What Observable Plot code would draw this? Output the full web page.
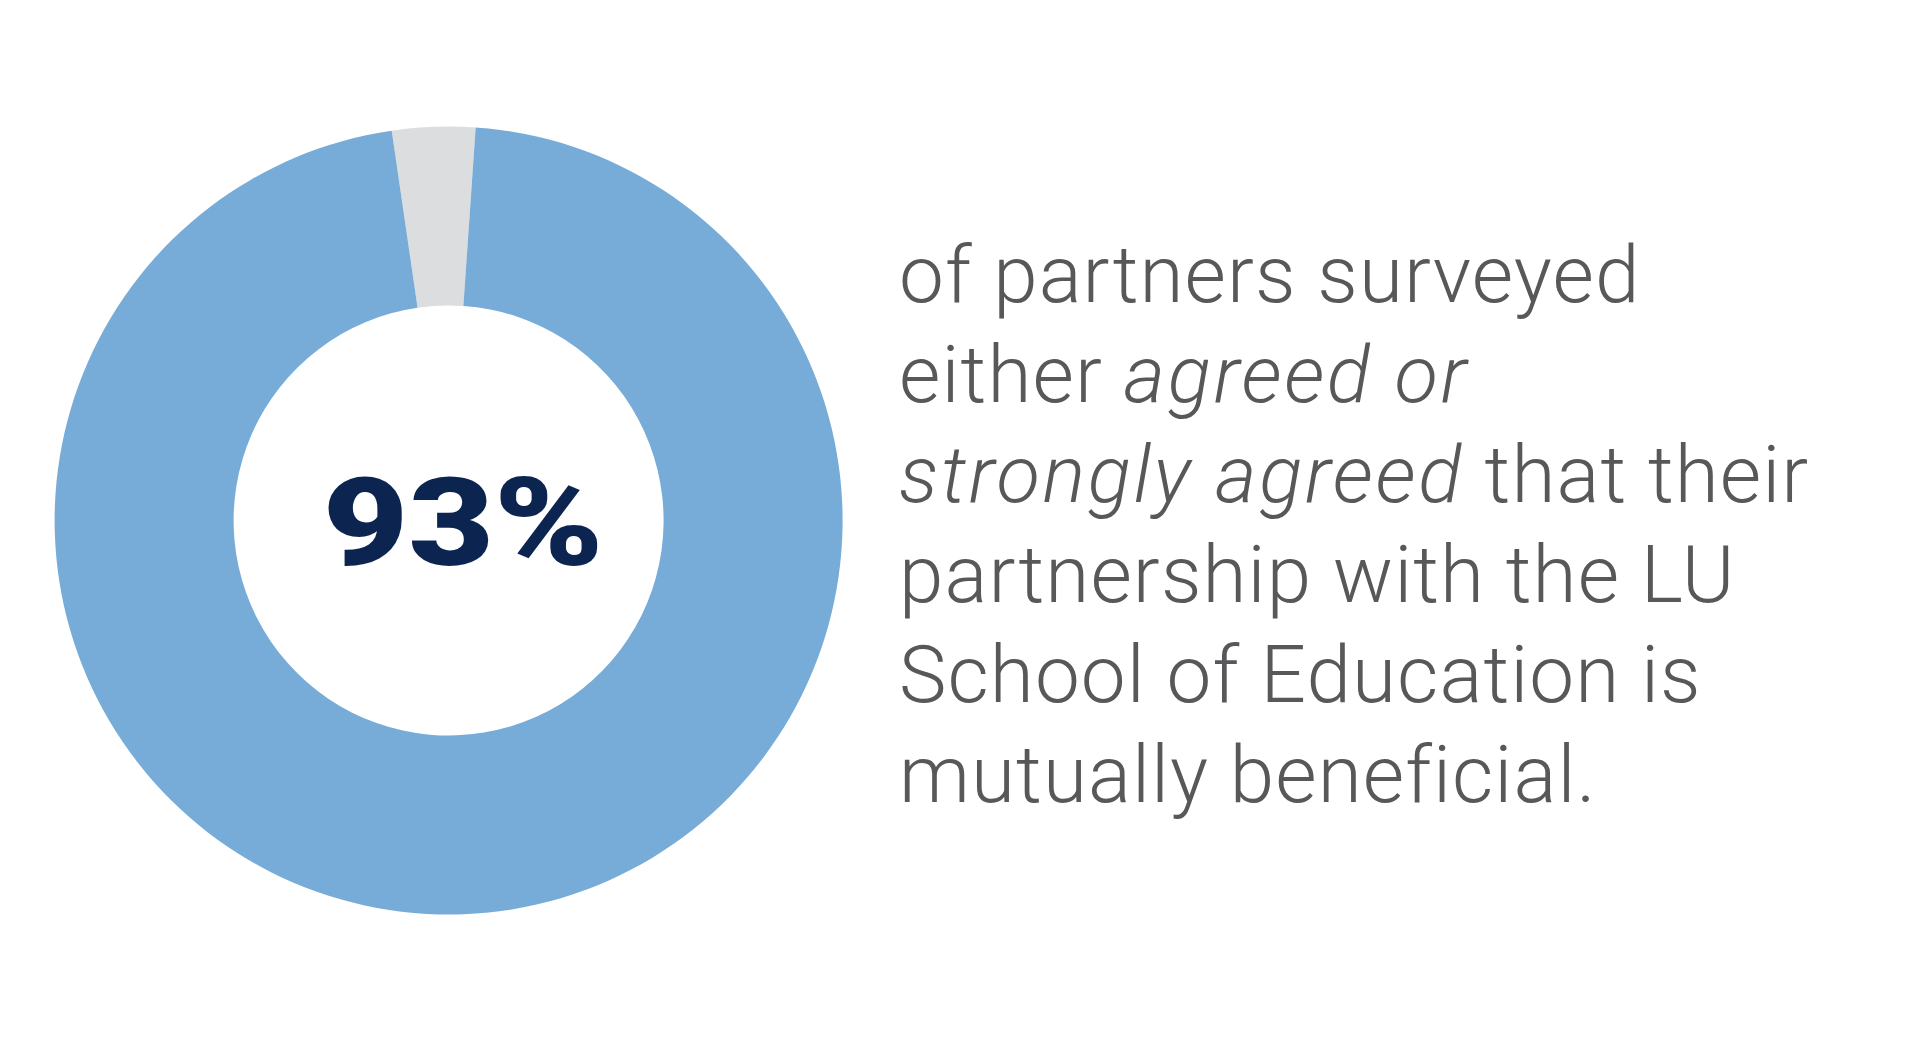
<!DOCTYPE html>
<html>
<head>
<meta charset="utf-8">
<script src="https://cdn.jsdelivr.net/npm/d3@7"></script>
<script src="https://cdn.jsdelivr.net/npm/@observablehq/plot@0.6"></script>
<style>
  html, body { margin: 0; padding: 0; background: #ffffff; }
  #wrap { position: relative; width: 1909px; height: 1042px; overflow: hidden; }
  #chart { position: absolute; left: 0; top: 0; }
  #caption {
    position: absolute; left: 899px; top: 225px;
    font-family: Roboto, "Noto Sans", sans-serif; font-weight: 300;
    font-size: 80px; line-height: 100px; color: #58585b;
    white-space: nowrap; letter-spacing: 1.1px;
  }
  #caption em { font-style: italic; letter-spacing: 2.6px; }
</style>
</head>
<body>
<div id="wrap">
  <div id="chart"></div>
  <div id="caption"></div>
</div>
<script>
// ---- data ----
const sliceLabels = ["Other responses", "Agreed or strongly agreed"];
const sliceValues = [3.4, 96.6];          // as drawn in the ring
const sliceColors = ["#dcdddf", "#77acd8"];
const headline = ["93%"];
const captionLines = [
  [["of partners surveyed", false]],
  [["either ", false], ["agreed or", true]],
  [["strongly agreed", true], [" that their", false]],
  [["partnership with the LU", false]],
  [["School of Education is", false]],
  [["mutually beneficial.", false]]
];

// ---- layout ----
const W = 900, H = 1042;
const cx = 448.6, cy = 520.5, R = 394;
const innerRatio = 215 / 394;
const startDeg = -8.3;

const colorScale = Plot.scale({color: {type: "ordinal", domain: sliceLabels, range: sliceColors}});

const pie = d3.pie().sort(null).value(d => d)
  .startAngle(startDeg * Math.PI / 180)
  .endAngle(startDeg * Math.PI / 180 + 2 * Math.PI);
const arcs = pie(sliceValues);

function ring(index, scales) {
  const x0 = scales.x(0), y0 = scales.y(0);
  const rOuter = scales.x(1) - x0;
  const rInner = scales.x(innerRatio) - x0;
  const arc = d3.arc().innerRadius(rInner).outerRadius(rOuter);
  const g = d3.create("svg:g").attr("transform", `translate(${x0},${y0})`);
  g.selectAll("path").data(arcs).join("path")
    .attr("d", arc)
    .attr("fill", (d, i) => colorScale.apply(sliceLabels[i]));
  return g.node();
}

const plot = Plot.plot({
  width: W, height: H,
  margin: 0,
  x: {domain: [-1, 1], range: [cx - R, cx + R], axis: null},
  y: {domain: [-1, 1], range: [cy + R, cy - R], axis: null},
  style: {background: "transparent"},
  marks: [
    ring,
    Plot.text(headline, {
      x: () => 0, y: () => 0, text: d => d,
      fontFamily: "Roboto, sans-serif", fontWeight: 900, fontSize: 122,
      fill: "#0c2550", textAnchor: "middle", lineAnchor: "middle", dx: 14, dy: 5
    })
  ]
});
// widen the headline glyphs horizontally around its centre
{
  const tg = plot.querySelector('g[aria-label="text"]');
  if (tg) {
    const wrapG = document.createElementNS("http://www.w3.org/2000/svg", "g");
    const px = cx + 14;
    wrapG.setAttribute("transform", `translate(${px},0) scale(1.21,1) translate(${-px},0)`);
    tg.parentNode.insertBefore(wrapG, tg);
    wrapG.appendChild(tg);
  }
}
document.getElementById("chart").appendChild(plot);

const cap = d3.select("#caption");
captionLines.forEach(parts => {
  const line = cap.append("div");
  parts.forEach(([t, it]) => {
    if (it) line.append("em").text(t); else line.append("span").text(t);
  });
});
</script>
</body>
</html>
